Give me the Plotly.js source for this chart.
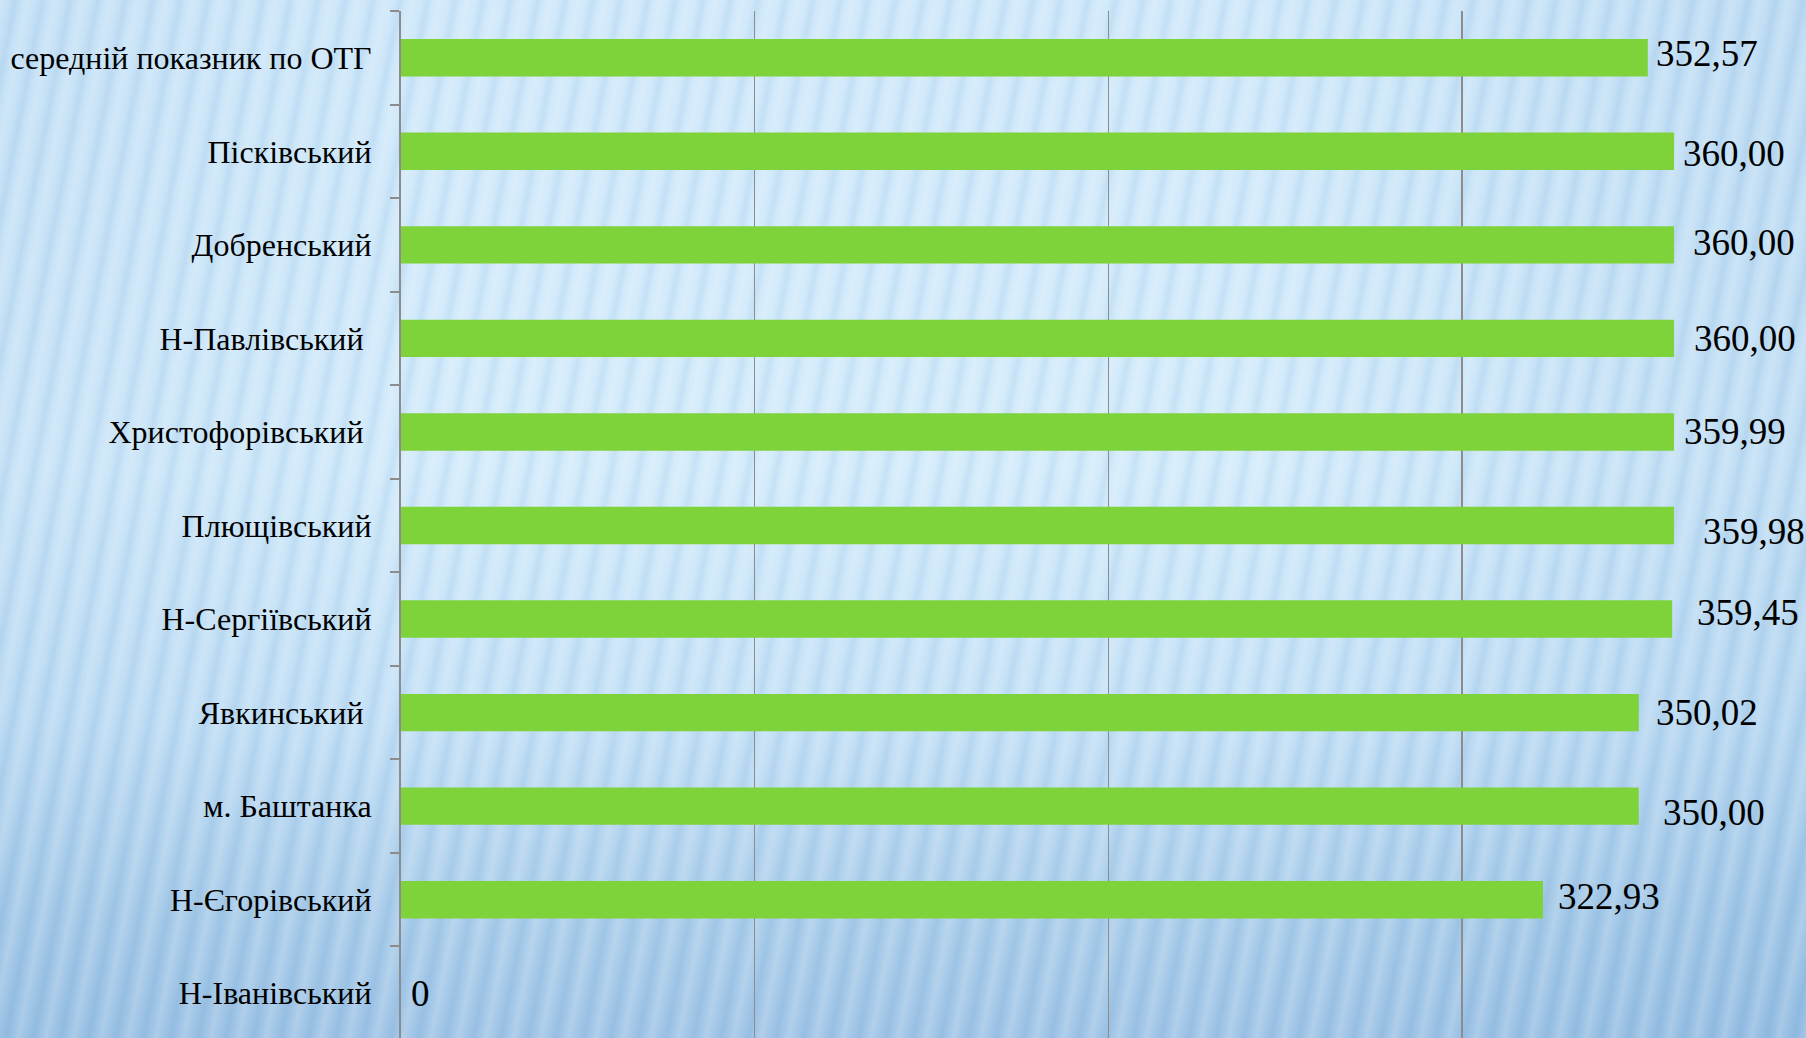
<!DOCTYPE html>
<html>
<head>
<meta charset="utf-8">
<script src="https://cdn.plot.ly/plotly-3.0.1.min.js"></script>
<style>
html, body { margin: 0; padding: 0; width: 1806px; height: 1038px; overflow: hidden; }
body {
  background:
    repeating-linear-gradient(101deg,
      rgba(255,255,255,0.18) 0px,
      rgba(255,255,255,0.03) 8px,
      rgba(70,130,190,0.09) 15px,
      rgba(255,255,255,0.03) 21px,
      rgba(255,255,255,0.18) 27px),
    linear-gradient(to right, rgba(90,150,205,0.10) 0%, rgba(90,150,205,0) 25%, rgba(90,150,205,0) 70%, rgba(90,150,205,0.16) 100%),
    linear-gradient(to bottom, #cfe8fa 0%, #d3ebfb 45%, #c3e0f6 70%, #aacdea 88%, #9fc4e6 100%);
}
#chart { width: 1806px; height: 1040px; }
</style>
</head>
<body>
<div id="chart"></div>
<script>
// Categories, top to bottom
const categories = [
  "середній показник по ОТГ",
  "Пісківський",
  "Добренський",
  "Н-Павлівський\u00a0",
  "Христофорівський\u00a0",
  "Плющівський",
  "Н-Сергіївський",
  "Явкинський\u00a0",
  "м. Баштанка",
  "Н-Єгорівський",
  "Н-Іванівський"
];
const values = [352.57, 360.00, 360.00, 360.00, 359.99, 359.98, 359.45, 350.02, 350.00, 322.93, 0];

// small pixel nudges of value labels (as placed in the original)
const labelDx = [6, 7, 17, 18, 8, 27, 23, 15, 22, 13, 8];
const labelDy = [4, -2, 2, 0, 0, -6, 7, 0, -6, 3, 0];

function fmt(v) {
  return v === 0 ? "0" : v.toFixed(2).replace(".", ",");
}

const serif = "Liberation Serif, Times New Roman, serif";

const trace = {
  type: "bar",
  orientation: "h",
  x: values,
  y: categories,
  marker: { color: "#7ed23a", line: { width: 0 } },
  hoverinfo: "skip"
};

const annotations = values.map((v, i) => ({
  x: v, y: categories[i], xref: "x", yref: "y",
  text: fmt(v), showarrow: false,
  xanchor: "left", yanchor: "middle",
  xshift: labelDx[i], yshift: labelDy[i],
  font: { family: serif, size: 37, color: "#000" }
}));

const layout = {
  width: 1806, height: 1040,
  margin: { l: 401, r: 0, t: 11, b: 0, pad: 0 },
  paper_bgcolor: "rgba(0,0,0,0)",
  plot_bgcolor: "rgba(0,0,0,0)",
  font: { family: serif },
  bargap: 0.6,
  showlegend: false,
  xaxis: {
    range: [0, 397.3],
    dtick: 100, tick0: 0,
    showgrid: true, gridcolor: "#8c8c8c", gridwidth: 1.5,
    zeroline: false, showline: false,
    showticklabels: false, ticks: "",
    fixedrange: true
  },
  yaxis: {
    type: "category",
    autorange: "reversed",
    showline: true, linecolor: "#8c8c8c", linewidth: 2,
    ticks: "outside", tickson: "boundaries", ticklen: 9,
    tickcolor: "#8c8c8c", tickwidth: 2,
    ticklabelstandoff: 21,
    showgrid: false, zeroline: false,
    tickfont: { family: serif, size: 32, color: "#000" },
    fixedrange: true
  },
  annotations: annotations
};

Plotly.newPlot("chart", [trace], layout, { displayModeBar: false, staticPlot: true });
</script>
</body>
</html>
